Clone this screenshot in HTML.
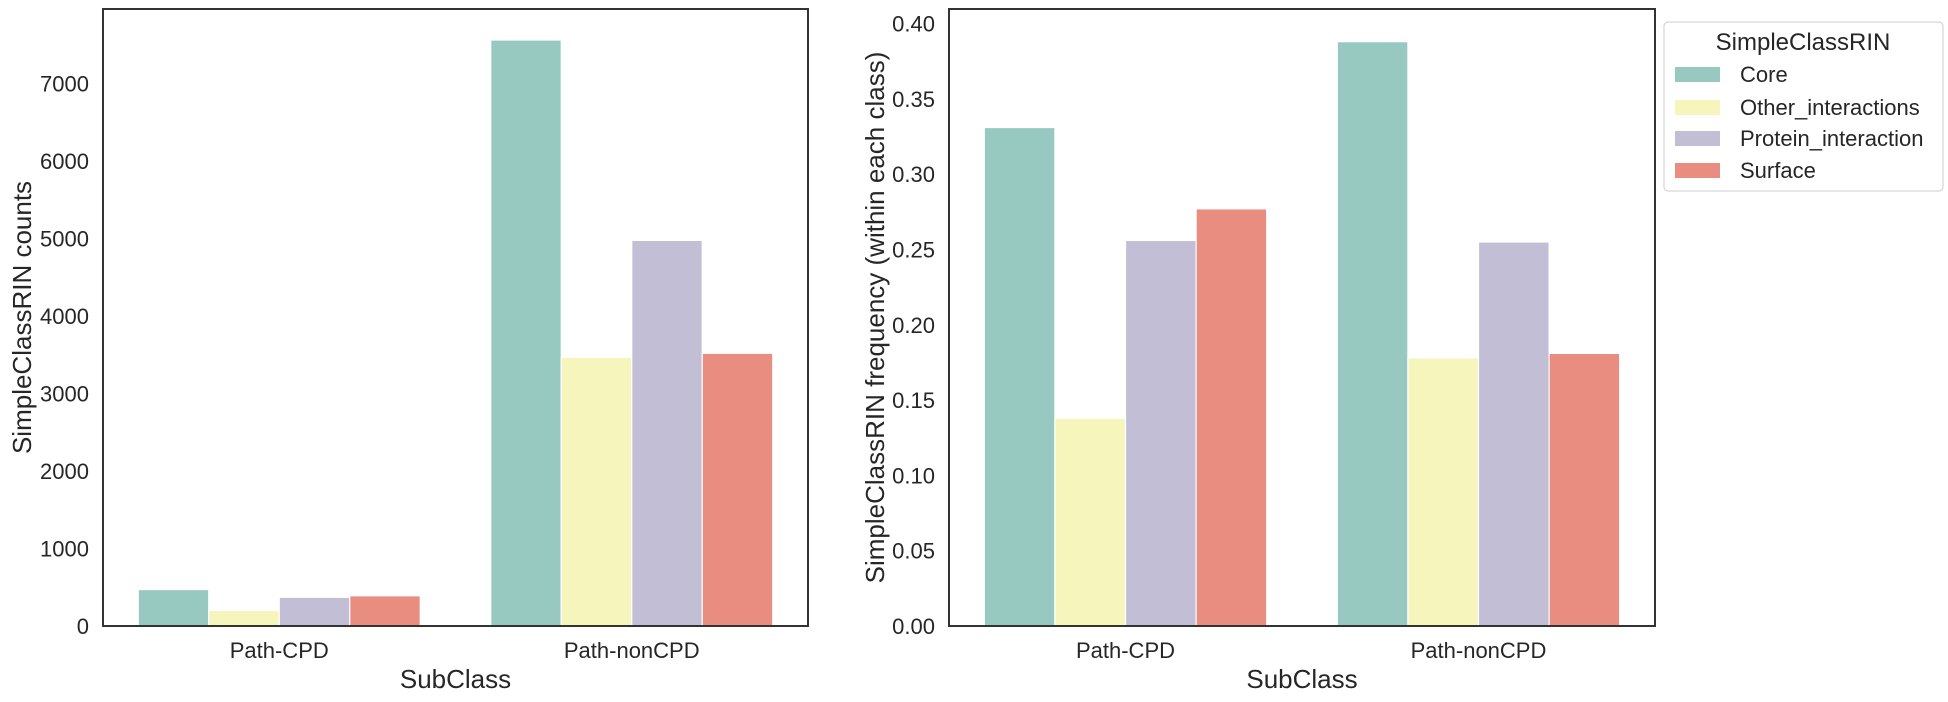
<!DOCTYPE html>
<html><head><meta charset="utf-8"><style>
body{margin:0;background:#fff;}
svg text{font-family:"Liberation Sans",Arial,sans-serif;fill:#262626;}
</style></head><body>
<svg id="chart" width="1948" height="697" viewBox="0 0 1948 697" xmlns="http://www.w3.org/2000/svg">
<g id="left"></g>
<g id="right"></g>
<g id="legend"></g>
</svg>
<script>
const categories = ["Path-CPD", "Path-nonCPD"];
const seriesNames = ["Core", "Other_interactions", "Protein_interaction", "Surface"];
const colors = ["#97c9c1", "#f5f5bc", "#c2bed6", "#e98d81"];
const countsCore = [470, 7560];
const countsOther = [200, 3465];
const countsProtein = [370, 4975];
const countsSurface = [390, 3518];
const freqCore = [0.331, 0.388];
const freqOther = [0.138, 0.178];
const freqProtein = [0.256, 0.255];
const freqSurface = [0.277, 0.181];
const countTicks = [0, 1000, 2000, 3000, 4000, 5000, 6000, 7000];
const countTickLabels = ["0", "1000", "2000", "3000", "4000", "5000", "6000", "7000"];
const freqTicks = [0, 0.05, 0.1, 0.15, 0.2, 0.25, 0.3, 0.35, 0.4];
const freqTickLabels = ["0.00", "0.05", "0.10", "0.15", "0.20", "0.25", "0.30", "0.35", "0.40"];

const NS = "http://www.w3.org/2000/svg";
function mk(tag, attrs, parent, txt){
  const e = document.createElementNS(NS, tag);
  for (const k in attrs) e.setAttribute(k, attrs[k]);
  if (txt !== undefined) e.textContent = txt;
  parent.appendChild(e);
  return e;
}
function panel(g, x0, x1, yTop, yBot, ymax, series, ticks, tickLabels, ylabel, ylabelX, tickX){
  const ys = v => yBot - (v / ymax) * (yBot - yTop);
  const catW = (x1 - x0) / categories.length;
  const xs = i => x0 + catW * (i + 0.5);
  const bw = catW * 0.8 / series.length;
  series.forEach((vals, s) => {
    vals.forEach((v, i) => {
      const bx = xs(i) - catW * 0.4 + s * bw;
      const r = mk("rect", {x: bx, y: ys(v), width: bw, height: yBot - ys(v), fill: colors[s], stroke: "#fff", "stroke-width": 1.2}, g);
      
      
    });
  });
  ticks.forEach((t, k) => {
    const tx = mk("text", {x: tickX, y: ys(t) + 8, "text-anchor": "end", "font-size": 22}, g, tickLabels[k]);
    
    
  });
  categories.forEach((c, i) => {
    const tx = mk("text", {x: xs(i), y: yBot + 32, "text-anchor": "middle", "font-size": 22}, g, c);
    
    
  });
  const fr = mk("rect", {x: x0, y: yTop, width: x1 - x0, height: yBot - yTop, fill: "none", stroke: "#333", "stroke-width": 2}, g);
  
  
  const xl = mk("text", {x: (x0 + x1) / 2, y: yBot + 62, "text-anchor": "middle", "font-size": 26}, g, "SubClass");
  
  
  const cy = (yTop + yBot) / 2;
  const yl = mk("text", {x: ylabelX, y: cy, "text-anchor": "middle", "font-size": 26, transform: "rotate(-90 " + ylabelX + " " + cy + ")"}, g, ylabel);
  
  
}
panel(document.getElementById("left"), 103, 808, 9, 626, 7960,
  [countsCore, countsOther, countsProtein, countsSurface], countTicks, countTickLabels,
  "SimpleClassRIN counts", 31, 89);
panel(document.getElementById("right"), 949, 1655, 9, 626, 0.4097,
  [freqCore, freqOther, freqProtein, freqSurface], freqTicks, freqTickLabels,
  "SimpleClassRIN frequency (within each class)", 884, 935);

const lg = document.getElementById("legend");
const box = mk("rect", {x: 1664, y: 22, width: 279, height: 169, rx: 4, fill: "#fff", stroke: "#ccc", "stroke-width": 1}, lg);


const lt = mk("text", {x: 1803, y: 50, "text-anchor": "middle", "font-size": 24}, lg, "SimpleClassRIN");


const rowY = [74, 107, 138, 170];
seriesNames.forEach((n, s) => {
  const p = mk("rect", {x: 1675, y: rowY[s] - 7, width: 45, height: 15, fill: colors[s]}, lg);
  
  
  const t = mk("text", {x: 1740, y: rowY[s] + 8, "font-size": 22}, lg, n);
  
  
});
</script>
</body></html>
